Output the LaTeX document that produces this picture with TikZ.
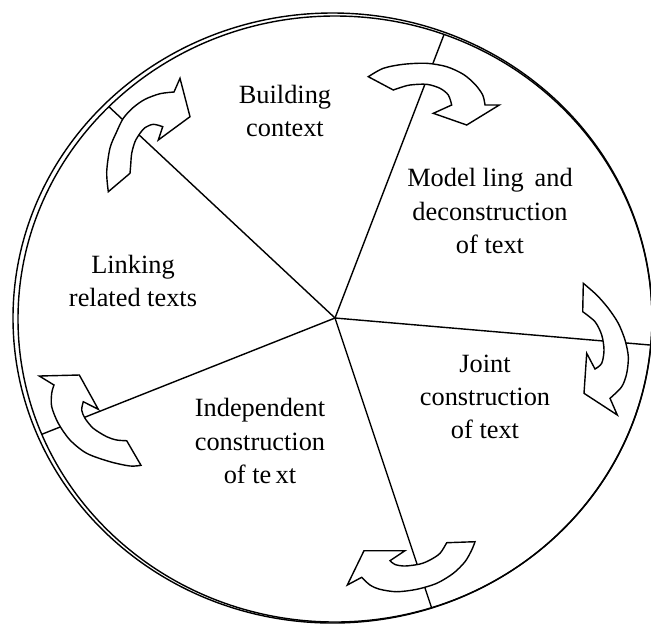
\documentclass[tikz,border=0pt]{standalone}
\usepackage{fontspec}
\setmainfont{Liberation Serif}
\usepackage{tikz}
\usetikzlibrary{positioning}

\begin{document}
\begin{tikzpicture}[x=0.02cm,y=-0.02cm,line width=0.8pt,
  stagetext/.style={align=center,font=\fontsize{15}{19}\selectfont},
  turnarrow/.style={draw,fill=white,line join=miter}]
 \useasboundingbox (0,0) rectangle (651,623);
 \coordinate (hub) at (335,318);
 \coordinate (s1) at (-8.5,-3);
 \coordinate (s2) at (500,-111);
 \coordinate (s3) at (807.5,358.5);
 \coordinate (s4) at (485,768);
 \coordinate (s5) at (-100,490.5);
 % spokes, cut at the inner rim
 \begin{scope}
  \clip (335,319) ellipse [x radius=317, y radius=303];
  \draw (hub) -- (s1);
  \draw (hub) -- (s2);
  \draw (hub) -- (s3);
  \draw (hub) -- (s4);
  \draw (hub) -- (s5);
 \end{scope}
 % rim
 \draw (332.5,318) ellipse [x radius=319.5, y radius=305];
 \draw (335,319) ellipse [x radius=317, y radius=303];
 % turning arrows
 \draw[turnarrow] (130,173.3) -- (108.3,191.7)
  -- plot[smooth] coordinates {(108.3,191.7) (106.7,172) (110,148) (116.7,131.7) (123.3,118.3) (133,107.7) (145,99.3) (160,93.7) (174,92)}
  -- (180,78.3) -- (190,116.7) -- (158.3,140) -- (162.7,126.7)
  -- plot[smooth] coordinates {(162.7,126.7) (153.3,124.3) (145,127.7) (140,133.3) (135,141.7) (131.7,153.3) (130.7,165) (130,173.3)}
  -- cycle;
 \draw[turnarrow] (393.3,90) -- (368.3,76.7)
  -- plot[smooth] coordinates {(368.3,76.7) (383.3,68.3) (403.3,64.3) (426.7,63.3) (446.7,66.7) (463.3,74.3) (475,84.3) (482.7,95) (485,105)}
  -- (499.3,105) -- (466.7,125) -- (433.3,113.3) -- (451.7,105)
  -- plot[smooth] coordinates {(451.7,105) (448.3,95) (440,88.3) (426.7,84.3) (410,85) (400,87.7) (393.3,90)}
  -- cycle;
 \draw[turnarrow] (582.7,311.7) -- (583.3,283.3)
  -- plot[smooth] coordinates {(583.3,283.3) (596.7,295) (608.3,308.3) (618.3,323.3) (625,340) (628.3,356.7) (626.7,373.3) (621.7,386.7) (610,398.3)}
  -- (617.3,415) -- (584,393.3) -- (586.7,353.3) -- (595,369)
  -- plot[smooth] coordinates {(595,369) (601.7,363.3) (604,350) (601.7,335) (595,321.7) (582.7,311.7)}
  -- cycle;
 \draw[turnarrow] (446.7,542.7) -- (475,541.7)
  -- plot[smooth] coordinates {(475,541.7) (471.7,550) (465,561.7) (453.3,573.3) (436.7,583.3) (416.7,589.3) (396.7,591.7) (380,589.3) (370,585) (361.7,577.3)}
  -- (347.3,585) -- (364,550.7) -- (405,550.7) -- (390,560.7)
  -- plot[smooth] coordinates {(390,560.7) (395,564.5) (405,566) (420,564) (430,560) (440,553.3) (446.7,542.7)}
  -- cycle;
 \draw[turnarrow] (126.7,440.7) -- (141,465.3)
  -- plot[smooth] coordinates {(141,465.3) (130,466) (110,461.7) (86.7,453.3) (70,440) (58.3,423.3) (51.7,406.7) (51.7,393.3) (54,385)}
  -- (39.3,376) -- (79.3,375) -- (98.3,409.3) -- (83.3,401.7)
  -- plot[smooth] coordinates {(83.3,401.7) (81.7,410) (85,418.3) (93.3,428.3) (106.7,436.7) (116.7,440) (126.7,440.7)}
  -- cycle;
 % stage labels
 \node[stagetext] (build) at (285,111) {Building\\context};
 \node[stagetext] (model) at (490,211) {Model ling\,\ and\\deconstruction\\of text};
 \node[stagetext] (joint) at (485,397) {Joint\\construction\\of text};
 \node[stagetext] (indep) at (260,441) {Independent\\construction\\of te\,xt};
 \node[stagetext] (link) at (133,281) {Linking\\related texts};
\end{tikzpicture}
\end{document}
